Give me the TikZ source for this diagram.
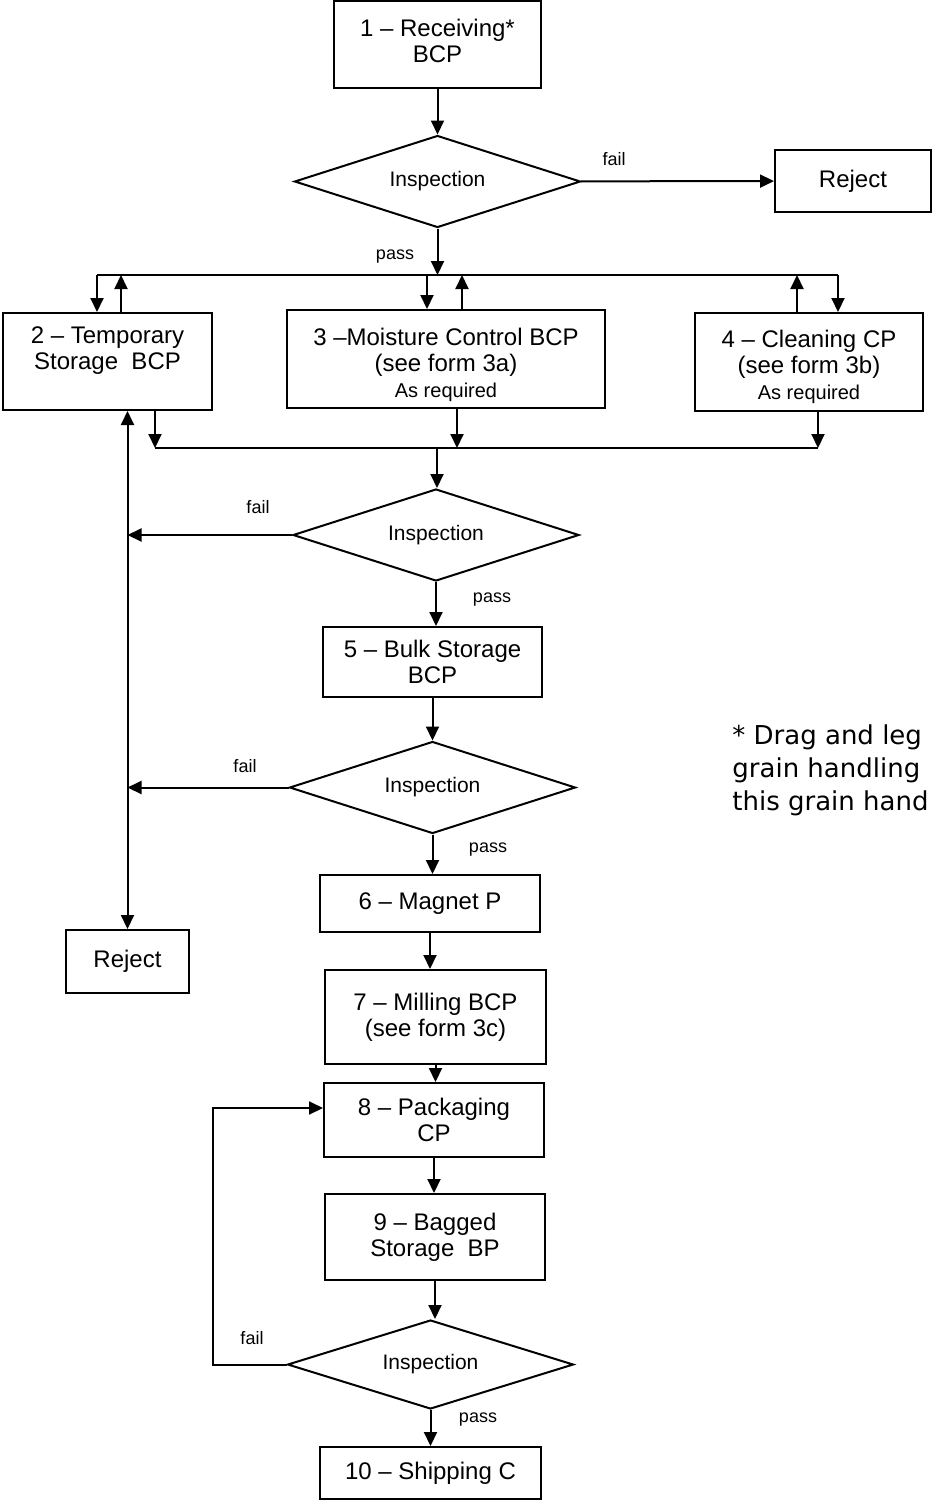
\documentclass[tikz,border=0pt]{standalone}
\usepackage{fontspec}
\setmainfont{Liberation Sans}
\newfontfamily\notefont{DejaVu Sans}
\usetikzlibrary{shapes, shapes.geometric, arrows.meta, calc, positioning}

\tikzset{
    stagebox/.style={draw, line width=1pt, align=center, inner sep=2pt, font=\fontsize{12}{13}\selectfont},
    inspect/.style={draw, diamond, aspect=3, line width=1pt, inner sep=0pt, minimum width=143pt, minimum height=46pt, font=\fontsize{10.5}{12}\selectfont},
    flow/.style={line width=1pt, -{Triangle[length=7pt, width=6.5pt]}},
    twoway/.style={line width=1pt, {Triangle[length=7pt, width=6.5pt]}-{Triangle[length=7pt, width=6.5pt]}},
    busline/.style={line width=1pt},
    tag/.style={inner sep=0pt, font=\fontsize{9}{10}\selectfont},
}

\begin{document}
\begin{tikzpicture}[x=0.5pt, y=-0.5pt]
        \useasboundingbox (0,0) rectangle (933,1500);

        \node (b1) [stagebox, minimum width=103.5pt, minimum height=43.5pt] at (437.5,44.5) {1 – Receiving*\\BCP\rule[-4pt]{0pt}{4pt}};
        \node (insp1) [inspect] at (437.5,181.5) {Inspection};
        \node (rej1) [stagebox, minimum width=78pt, minimum height=31pt] at (853,181) {Reject};

        \node (b2) [stagebox, minimum width=104.5pt, minimum height=48.5pt] at (107.5,361.5) {2 – Temporary\\Storage\ \ BCP\\\mbox{}};
        \node (b3) [stagebox, minimum width=159pt, minimum height=49pt] at (446,359) {\rule{0pt}{15pt}3 –Moisture Control BCP\\(see form 3a)\\{\fontsize{10}{12}\selectfont As required}};
        \node (b4) [stagebox, minimum width=114pt, minimum height=49pt] at (809,362) {\rule{0pt}{14pt}4 – Cleaning CP\\(see form 3b)\\{\fontsize{10}{12}\selectfont As required}};

        \node (insp2) [inspect] at (436,535) {Inspection};
        \node (b5) [stagebox, minimum width=109.5pt, minimum height=35pt] at (432.5,662) {5 – Bulk Storage\\BCP};
        \node (insp3) [inspect] at (432.5,787.5) {Inspection};
        \node (b6) [stagebox, minimum width=110pt, minimum height=28.5pt] at (430,903.5) {6 – Magnet P};
        \node (rej2) [stagebox, minimum width=61.5pt, minimum height=31.5pt] at (127.5,961.5) {Reject};
        \node (b7) [stagebox, minimum width=110.5pt, minimum height=47pt] at (435.5,1017) {7 – Milling BCP\\(see form 3c)};
        \node (b8) [stagebox, minimum width=110pt, minimum height=37pt] at (434,1120) {8 – Packaging\\CP};
        \node (b9) [stagebox, minimum width=110pt, minimum height=43pt] at (435,1237) {9 – Bagged\\Storage\ \ BP};
        \node (insp4) [inspect, minimum height=44.5pt] at (430.5,1364.5) {Inspection};
        \node (b10) [stagebox, minimum width=110.5pt, minimum height=26pt] at (430.5,1473) {10 – Shipping C};

        \node (note) [anchor=west, align=left, inner sep=0pt, font=\notefont\fontsize{13}{16.5}\selectfont] at (732,770) {* Drag and leg\\grain handling\\this grain hand};

        % bus points
        \coordinate (busT) at (437.5,275);
        \coordinate (busL) at (97,275);
        \coordinate (up2)  at (121,275);
        \coordinate (dn3)  at (427,275);
        \coordinate (up3)  at (462,275);
        \coordinate (up4)  at (797,275);
        \coordinate (busR) at (838,275);

        \coordinate (busB) at (437,448);
        \coordinate (sumL) at (155,448);
        \coordinate (sum3) at (457,448);
        \coordinate (sumR) at (818,448);

        \coordinate (loop) at (213,1108);

        \draw [flow] (b1) -- (insp1);
        \draw [flow] (insp1) -- (rej1);
        \draw [flow] (insp1) -- (busT);

        \draw [busline] (busL) -- (busR);
        \draw [flow] (busL) -- (busL |- b2.north);
        \draw [flow] (up2 |- b2.north) -- (up2);
        \draw [flow] (dn3) -- (dn3 |- b3.north);
        \draw [flow] (up3 |- b3.north) -- (up3);
        \draw [flow] (up4 |- b4.north) -- (up4);
        \draw [flow] (busR) -- (busR |- b4.north);

        \draw [busline] (sumL) -- (sumR);
        \draw [flow] (sumL |- b2.south) -- (sumL);
        \draw [flow] (sum3 |- b3.south) -- (sum3);
        \draw [flow] (sumR |- b4.south) -- (sumR);
        \draw [flow] (busB) -- (busB |- insp2.north);

        \draw [twoway] (rej2.north |- b2.south) -- (rej2.north);
        \draw [flow] (insp2.west) -- (insp2.west -| rej2.north);
        \draw [flow] (insp3.west) -- (insp3.west -| rej2.north);

        \draw [flow] (insp2.south) -- (insp2.south |- b5.north);
        \draw [flow] (b5.south) -- (b5.south |- insp3.north);
        \draw [flow] (insp3.south) -- (insp3.south |- b6.north);
        \draw [flow] (b6.south) -- (b6.south |- b7.north);
        \draw [flow] (b7.south) -- (b7.south |- b8.north);
        \draw [flow] (b8.south) -- (b8.south |- b9.north);
        \draw [flow] (b9.south) -- (b9.south |- insp4.north);
        \draw [flow] (insp4.south) -- (insp4.south |- b10.north);
        \draw [flow] (insp4.west) -| (loop) -- (loop -| b8.west);

        \node (f1) [tag] at (614,159) {fail};
        \node (p1) [tag] at (395,257) {pass};
        \node (f2) [tag] at (258,507) {fail};
        \node (p2) [tag] at (492,600) {pass};
        \node (f3) [tag] at (245,766) {fail};
        \node (p3) [tag] at (488,850) {pass};
        \node (f4) [tag] at (252,1338) {fail};
        \node (p4) [tag] at (478,1420) {pass};
    \end{tikzpicture}
\end{document}
